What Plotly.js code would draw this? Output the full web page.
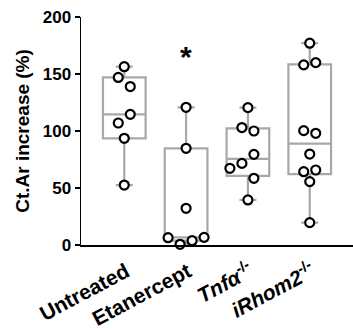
<!DOCTYPE html>
<html>
<head>
<meta charset="utf-8">
<script src="https://cdn.plot.ly/plotly-3.0.1.min.js"></script>
<style>html,body{margin:0;padding:0;background:#fff;}#chart{width:353px;height:329px;}</style>
</head>
<body>
<div id="chart"></div>
<script>
// Data (each group listed left-to-right within rows)
var categories = ["Untreated", "Etanercept", "<i>Tnfα</i><sup>-/-</sup>", "<i>iRhom2</i><sup>-/-</sup>"];
var untreated  = [156.4, 147, 139, 107, 114.6, 93.6, 52.6];
var etanercept = [120.8, 84.8, 32.2, 6.4, 0.6, 3.8, 6.7];
var tnfKO      = [120.5, 103, 100, 71.6, 67.3, 79.5, 58.5, 39.5];
var irhom2KO   = [177, 158, 160, 100.3, 98, 79.8, 64.3, 65.8, 55.6, 19.6];
var yTicks     = [0, 50, 100, 150, 200];
var starLabel  = "*";
var starValue  = 165;

var groups = [untreated, etanercept, tnfKO, irhom2KO];

var W = 353, H = 329;
var M = {l: 81, r: 0, t: 17, b: 84};
var xRange = [-0.7, 3.7], yRange = [0, 200];
var pxPerX = (W - M.l - M.r) / (xRange[1] - xRange[0]);
var pxPerY = (H - M.t - M.b) / (yRange[1] - yRange[0]);

// Prism-style quantiles: position (n+1)p
function quant(sorted, p) {
  var n = sorted.length, pos = (n + 1) * p;
  if (pos <= 1) return sorted[0];
  if (pos >= n) return sorted[n - 1];
  var lo = Math.floor(pos), f = pos - lo;
  return sorted[lo - 1] + f * (sorted[lo] - sorted[lo - 1]);
}

// Row-based scatter spreading (like Prism's scatter dot plot)
function spread(vals) {
  var T = 10.5, S = 12, D = 9.5; // px
  var idx = vals.map(function (v, i) { return i; });
  idx.sort(function (a, b) { return vals[b] - vals[a]; });
  var offPx = new Array(vals.length).fill(0);
  var placed = [];
  var i = 0;
  while (i < idx.length) {
    var start = vals[idx[i]] * pxPerY;
    var grp = [idx[i]];
    var j = i + 1;
    while (j < idx.length && start - vals[idx[j]] * pxPerY < T) { grp.push(idx[j]); j++; }
    grp.sort(function (a, b) { return a - b; });
    var k = grp.length;
    grp.forEach(function (g, m) {
      var o = (m - (k - 1) / 2) * S;
      var dir = o < 0 ? -1 : 1;
      var tries = 0;
      while (tries < 6 && placed.some(function (p) {
        var dy = (p.v - vals[g]) * pxPerY, dx = p.o - o;
        return Math.sqrt(dx * dx + dy * dy) < D;
      })) { o += dir * S / 2; tries++; }
      offPx[g] = o;
    });
    grp.forEach(function (g) { placed.push({v: vals[g], o: offPx[g]}); });
    i = j;
  }
  return offPx.map(function (o) { return o / pxPerX; });
}

var boxColor = "#a8a8a8";
var traces = [];
groups.forEach(function (vals, gi) {
  var s = vals.slice().sort(function (a, b) { return a - b; });
  traces.push({
    type: "box", x: [gi],
    q1: [quant(s, 0.25)], median: [quant(s, 0.5)], q3: [quant(s, 0.75)],
    lowerfence: [s[0]], upperfence: [s[s.length - 1]],
    width: 0.69, whiskerwidth: 0.4,
    line: {color: boxColor, width: 2.2},
    fillcolor: "rgba(255,255,255,0)",
    boxpoints: false, hoverinfo: "skip", showlegend: false
  });
});
groups.forEach(function (vals, gi) {
  var off = spread(vals);
  traces.push({
    type: "scatter", mode: "markers",
    x: vals.map(function (v, i) { return gi + off[i]; }), y: vals,
    marker: {symbol: "circle", size: 9, color: "#ffffff", line: {color: "#000000", width: 2.2}},
    cliponaxis: false, hoverinfo: "skip", showlegend: false
  });
});

var font = {family: "Liberation Sans, Arial, sans-serif", color: "#000", weight: "bold"};
var layout = {
  width: W, height: H,
  margin: M,
  paper_bgcolor: "#fff", plot_bgcolor: "#fff",
  showlegend: false,
  xaxis: {
    range: xRange, tickvals: [0, 1, 2, 3], ticktext: categories,
    tickangle: -28, ticks: "", showgrid: false, zeroline: false,
    showline: true, linecolor: "#000", linewidth: 1.5,
    ticklabelstandoff: 5, ticklabelshift: 2,
    tickfont: Object.assign({size: 21}, font), automargin: false
  },
  yaxis: {
    range: yRange, tickvals: yTicks, ticks: "outside", ticklen: 5, tickwidth: 1.5, tickcolor: "#000",
    showgrid: false, zeroline: false, showline: true, linecolor: "#000", linewidth: 1.5,
    tickfont: Object.assign({size: 17}, font), automargin: false,
    title: {text: "Ct.Ar increase (%)", font: Object.assign({size: 19}, font), standoff: 8}
  },
  annotations: [{
    x: 1, y: starValue, xref: "x", yref: "y", text: starLabel, showarrow: false,
    font: Object.assign({size: 30}, font), yanchor: "middle"
  }]
};
Plotly.newPlot("chart", traces, layout, {staticPlot: true, displayModeBar: false});
</script>
</body>
</html>
